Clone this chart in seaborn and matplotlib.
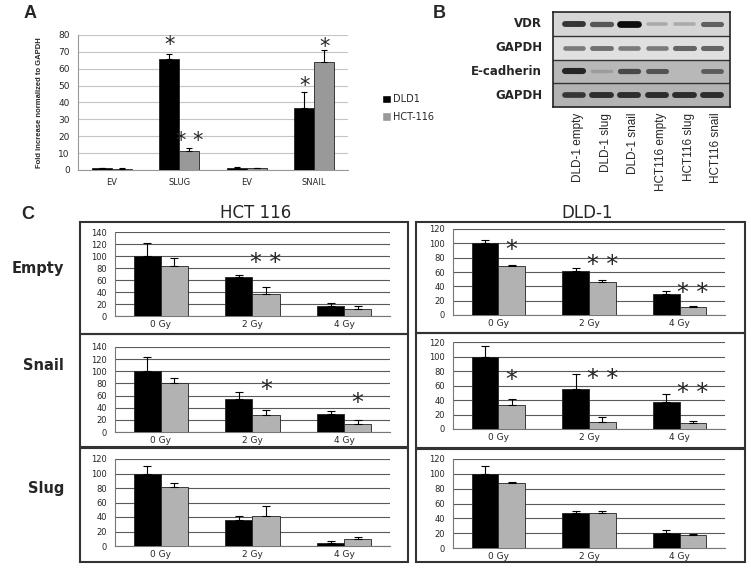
import numpy as np
import pandas as pd
import matplotlib
matplotlib.use('Agg')
import matplotlib.pyplot as plt
import seaborn as sns
from matplotlib.patches import Rectangle, Patch

# ---------------- panel A: qPCR
a_groups = ['EV', 'SLUG', 'EV', 'SNAIL']
a_series = ['DLD1', 'HCT-116']
a_dld1 = [1.0, 66, 1.2, 37]
a_dld1_err = [0.3, 3, 0.4, 9]
a_hct = [0.8, 11, 1.0, 64]
a_hct_err = [0.3, 2, 0.3, 7]
a_star_text = ['*', '* *', '*', '*']
a_star_group = [1, 1, 3, 3]
a_star_series = [0, 1, 0, 1]
a_star_y = [74, 17, 50, 73]

# ---------------- panel B: western blot
b_lanes = ['DLD-1 empty', 'DLD-1 slug', 'DLD-1 snail',
           'HCT116 empty', 'HCT116 slug', 'HCT116 snail']
b_rows = ['VDR', 'GAPDH', 'E-cadherin', 'GAPDH']
b_vdr = [0.75, 0.6, 0.95, 0.2, 0.2, 0.55]
b_gapdh1 = [0.45, 0.5, 0.45, 0.45, 0.55, 0.55]
b_ecad = [0.8, 0.15, 0.6, 0.55, 0.0, 0.5]
b_gapdh2 = [0.7, 0.75, 0.75, 0.75, 0.75, 0.75]
b_background = [0.84, 0.88, 0.72, 0.70]

# ---------------- panel C: survival after irradiation
doses = ['0 Gy', '2 Gy', '4 Gy']
constructs = ['Empty', 'Snail', 'Slug']
cell_lines = ['HCT 116', 'DLD-1']

hct_empty_black = [100, 65, 17]
hct_empty_black_err = [21, 4, 5]
hct_empty_gray = [83, 36, 12]
hct_empty_gray_err = [14, 12, 5]
hct_empty_stars = [('* *', 1, 88)]

hct_snail_black = [100, 54, 29]
hct_snail_black_err = [24, 12, 6]
hct_snail_gray = [80, 28, 14]
hct_snail_gray_err = [9, 9, 6]
hct_snail_stars = [('*', 1, 70), ('*', 2, 47)]

hct_slug_black = [100, 36, 4.5]
hct_slug_black_err = [10, 6, 2.5]
hct_slug_gray = [81, 42, 10]
hct_slug_gray_err = [6, 13, 2]
hct_slug_stars = []

dld_empty_black = [100, 62, 29]
dld_empty_black_err = [5, 3, 4]
dld_empty_gray = [68, 46.5, 11.5]
dld_empty_gray_err = [2, 2, 1.5]
dld_empty_stars = [('*', 0, 90), ('* *', 1, 70), ('* *', 2, 31)]

dld_snail_black = [100, 55.5, 37]
dld_snail_black_err = [14, 20, 11]
dld_snail_gray = [33, 10, 8]
dld_snail_gray_err = [8, 6, 3.5]
dld_snail_stars = [('*', 0, 67), ('* *', 1, 69), ('* *', 2, 49)]

dld_slug_black = [100, 47.5, 20]
dld_slug_black_err = [10, 3, 4]
dld_slug_gray = [87.5, 47, 17.5]
dld_slug_gray_err = [1, 2.5, 1]
dld_slug_stars = []

W, H = 751, 568
NARROW = ['Liberation Sans', 'DejaVu Sans']


def box(x0, y0, x1, y1):
    # pixel coords from top-left -> figure fraction rect
    return [x0 / W, 1 - y1 / H, (x1 - x0) / W, (y1 - y0) / H]


def draw_bars(ax, n, v1, e1, v2, e2, colors, width, cap):
    df = pd.DataFrame({
        'pos': list(range(n)) * 2,
        'series': ['a'] * n + ['b'] * n,
        'value': list(v1) + list(v2),
    })
    sns.barplot(data=df, x='pos', y='value', hue='series', palette=colors,
                width=width, errorbar=None, saturation=1, legend=False,
                edgecolor='#222222', linewidth=0.6, ax=ax, zorder=3)
    centers = []
    for cont, err in zip(ax.containers, [e1, e2]):
        xs = [p.get_x() + p.get_width() / 2 for p in cont]
        tops = [p.get_height() for p in cont]
        ax.errorbar(xs, tops, yerr=[np.zeros(len(err)), err], fmt='none',
                    ecolor='black', elinewidth=0.8, capsize=cap, capthick=0.8,
                    zorder=4)
        centers.append(xs)
    return centers


sns.set_style('white')
plt.rcParams['font.family'] = ['DejaVu Sans']

fig = plt.figure(figsize=(W / 100, H / 100), dpi=100)

# ================= panel A
axA = fig.add_axes(box(78, 35, 348, 170))
cA = draw_bars(axA, 4, a_dld1, a_dld1_err, a_hct, a_hct_err,
               ['#000000', '#999999'], 0.59, 2.5)
axA.set_ylim(0, 80)
axA.set_xlim(-0.5, 3.5)
axA.set_yticks(range(0, 81, 10))
axA.set_xticks(range(4))
axA.set_xticklabels(a_groups)
axA.set_axisbelow(True)
axA.yaxis.grid(True, color='#c4c4c4', lw=0.8)
for s in ['top', 'right']:
    axA.spines[s].set_visible(False)
for s in ['left', 'bottom']:
    axA.spines[s].set_color('#999999')
    axA.spines[s].set_linewidth(0.8)
axA.tick_params(axis='y', length=3, color='#999999', labelsize=6.5, pad=3)
axA.tick_params(axis='x', length=0, labelsize=6, pad=6)
axA.set_xlabel('')
axA.set_ylabel('Fold increase normalized to GAPDH', fontsize=5.5,
               fontweight='bold', family=NARROW)
axA.yaxis.set_label_coords(-0.13, 0.5)
for t, g, s, y in zip(a_star_text, a_star_group, a_star_series, a_star_y):
    axA.text(cA[s][g], y, t, ha='center', va='center', fontsize=15)
fig.legend(handles=[Patch(facecolor='#000000'), Patch(facecolor='#999999')],
           labels=a_series, loc='center left',
           bbox_to_anchor=(373 / W, 1 - 108 / H), frameon=False, fontsize=7,
           handlelength=0.9, handleheight=0.9, handletextpad=0.3,
           labelspacing=0.8)
fig.text(30 / W, 1 - 14 / H, 'A', fontsize=13, fontweight='bold',
         family='Liberation Sans', ha='center', va='center')

# ================= panel B
axB = fig.add_axes(box(553, 12, 730, 107))
axB.set_xlim(-0.76, 5.65)
axB.set_ylim(4, 0)
for r, (bg, bands) in enumerate(zip(b_background,
                                     [b_vdr, b_gapdh1, b_ecad, b_gapdh2])):
    axB.axhspan(r, r + 1, color=str(bg), lw=0)
    for i, inten in enumerate(bands):
        if inten <= 0:
            continue
        shade = bg * (1 - inten)
        axB.plot([i - 0.33, i + 0.33], [r + 0.5, r + 0.5], color=str(shade),
                 lw=2 + 3 * inten, solid_capstyle='round')
    if r > 0:
        axB.axhline(r, color='#333333', lw=1.0)
    axB.text(-0.062, r + 0.5, b_rows[r], ha='right', va='center',
             fontsize=8.5, fontweight='bold',
             transform=axB.get_yaxis_transform())
for i, lane in enumerate(b_lanes):
    axB.text(i + 0.15, -0.06, lane, rotation=90, ha='center', va='top',
             fontsize=8.5, family=NARROW,
             transform=axB.get_xaxis_transform())
axB.set_xticks([])
axB.set_yticks([])
for s in axB.spines.values():
    s.set_color('#222222')
    s.set_linewidth(1.2)
fig.text(439 / W, 1 - 14 / H, 'B', fontsize=13, fontweight='bold',
         family='Liberation Sans', ha='center', va='center')

# ================= panel C
fig.text(28 / W, 1 - 214 / H, 'C', fontsize=13, fontweight='bold',
         family='Liberation Sans', ha='center', va='center')
fig.text(256 / W, 1 - 213 / H, cell_lines[0], fontsize=12,
         ha='center', va='center')
fig.text(587 / W, 1 - 213 / H, cell_lines[1], fontsize=12,
         ha='center', va='center')

panels_c = [
    # axes x range, axes y range, y max, frame box, data
    ((115, 390), (232, 316), 140, (80, 222, 408, 334),
     hct_empty_black, hct_empty_black_err, hct_empty_gray, hct_empty_gray_err, hct_empty_stars),
    ((115, 390), (347, 432), 140, (80, 334, 408, 447),
     hct_snail_black, hct_snail_black_err, hct_snail_gray, hct_snail_gray_err, hct_snail_stars),
    ((115, 390), (459, 546), 120, (80, 448, 408, 562),
     hct_slug_black, hct_slug_black_err, hct_slug_gray, hct_slug_gray_err, hct_slug_stars),
    ((453, 725), (229, 315), 120, (416, 222, 745, 333),
     dld_empty_black, dld_empty_black_err, dld_empty_gray, dld_empty_gray_err, dld_empty_stars),
    ((453, 725), (342, 429), 120, (416, 333, 745, 448),
     dld_snail_black, dld_snail_black_err, dld_snail_gray, dld_snail_gray_err, dld_snail_stars),
    ((453, 725), (459, 548), 120, (416, 449, 745, 562),
     dld_slug_black, dld_slug_black_err, dld_slug_gray, dld_slug_gray_err, dld_slug_stars),
]

for (xr, yr, ymax, frame, vb, eb, vg, eg, stars) in panels_c:
    fx0, fy0, fx1, fy1 = frame
    fig.patches.append(Rectangle((fx0 / W, 1 - fy1 / H), (fx1 - fx0) / W,
                                 (fy1 - fy0) / H, transform=fig.transFigure,
                                 fill=False, edgecolor='#333333', lw=1.5))
    ax = fig.add_axes(box(xr[0], yr[0], xr[1], yr[1]))
    cC = draw_bars(ax, 3, vb, eb, vg, eg, ['#000000', '#b2b2b2'], 0.59, 3)
    ax.set_ylim(0, ymax)
    ax.set_xlim(-0.5, 2.5)
    ax.set_yticks(range(0, ymax + 1, 20))
    ax.set_xticks(range(3))
    ax.set_xticklabels(doses)
    ax.set_xticks([0.5, 1.5], minor=True)
    ax.set_axisbelow(True)
    ax.yaxis.grid(True, color='#5a5a5a', lw=0.8)
    for s in ['top', 'right']:
        ax.spines[s].set_visible(False)
    for s in ['left', 'bottom']:
        ax.spines[s].set_color('#777777')
        ax.spines[s].set_linewidth(0.8)
    ax.tick_params(axis='y', length=3, color='#777777', labelsize=6, pad=3)
    ax.tick_params(axis='x', which='major', length=0, labelsize=6.5, pad=3)
    ax.tick_params(axis='x', which='minor', length=2, color='#555555')
    ax.set_xlabel('')
    ax.set_ylabel('')
    for t, d, y in stars:
        ax.text(cC[1][d], y, t, ha='center', va='center', fontsize=17)

row_label_y = [268, 365, 488]
for name, y in zip(constructs, row_label_y):
    fig.text(64 / W, 1 - y / H, name, fontsize=10.5, fontweight='bold',
             ha='right', va='center')

fig.savefig('out.png', dpi=100)
